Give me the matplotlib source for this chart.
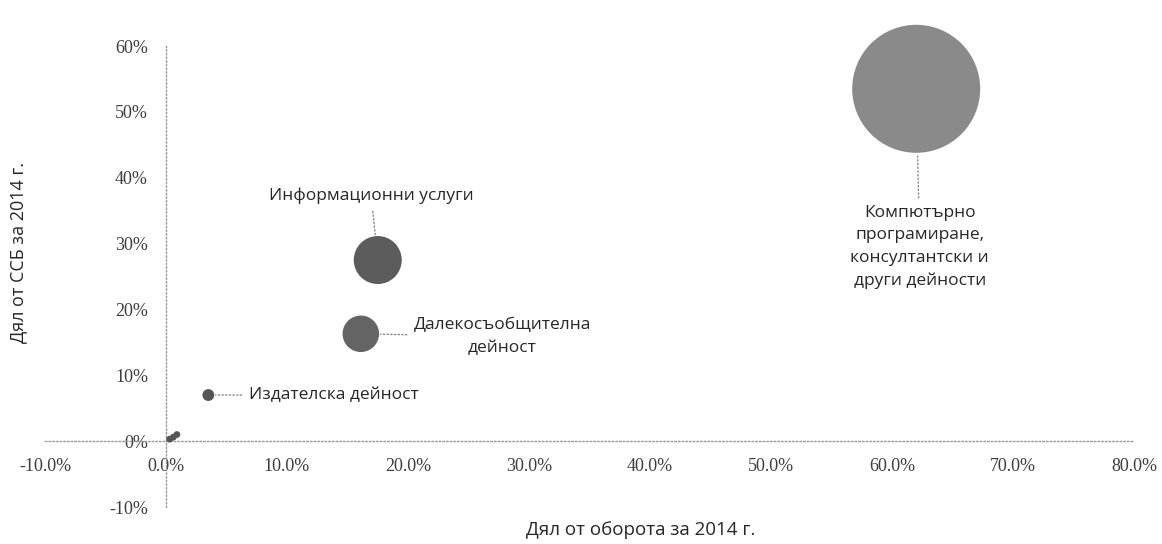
import numpy as np
import matplotlib
matplotlib.use("Agg")
from matplotlib import pyplot as plt
from matplotlib.ticker import FuncFormatter, MultipleLocator

# Дял от оборота (x), дял от ССБ (y) и размер на балона
sectors = ["Компютърно\nпрограмиране,\nконсултантски и\nдруги дейности",
           "Информационни услуги",
           "Далекосъобщителна\nдейност",
           "Издателска дейност",
           "", "", ""]
turnover_share = [62.0, 17.5, 16.1, 3.5, 0.9, 0.6, 0.3]
ssb_share = [53.5, 27.5, 16.3, 7.0, 1.0, 0.6, 0.3]
bubble_size = [64.0, 9.0, 5.2, 0.55, 0.18, 0.18, 0.18]
bubble_colors = ["#8a8a8a", "#5c5c5c", "#646464", "#555555", "#555555", "#555555", "#555555"]

SANS = ["Open Sans", "DejaVu Sans"]
SERIF = ["Liberation Serif", "DejaVu Serif"]

fig = plt.figure(figsize=(11.62, 5.44), dpi=100)
ax = fig.add_axes([45 / 1162, 1 - 507 / 544, 1089 / 1162, 461 / 544])

for side in ["top", "right"]:
    ax.spines[side].set_visible(False)
ax.spines["bottom"].set_position(("data", 0))
ax.spines["left"].set_position(("data", 0))
for side in ["bottom", "left"]:
    ax.spines[side].set_color("#9a9a9a")
    ax.spines[side].set_linestyle(":")
    ax.spines[side].set_linewidth(1.0)

ax.set_xlim(-10, 80)
ax.set_ylim(-10, 60)
ax.xaxis.set_major_locator(MultipleLocator(10))
ax.yaxis.set_major_locator(MultipleLocator(10))
ax.xaxis.set_major_formatter(FuncFormatter(lambda v, p: f"{v:.1f}%"))
ax.yaxis.set_major_formatter(FuncFormatter(lambda v, p: f"{v:.0f}%"))
ax.tick_params(axis="both", length=0, labelcolor="#3c3c3c", labelsize=13)
ax.tick_params(axis="x", pad=12)
ax.tick_params(axis="y", pad=13)
for lbl in ax.get_xticklabels() + ax.get_yticklabels():
    lbl.set_family(SERIF)

# радиус в пиксели ~ 8 * sqrt(размер)
radius_px = 8 * np.sqrt(np.array(bubble_size))
sizes = (2 * radius_px * 0.72) ** 2
ax.scatter(turnover_share, ssb_share, s=sizes, c=bubble_colors,
           edgecolors="none", zorder=3, clip_on=False)

# етикети с пунктирни водещи линии (отместване в точки)
label_offsets = [(2.5, -114), (-4.7, 46), (102, -2), (29, 0)]
label_ha = ["center", "center", "center", "left"]
for i, (dx, dy) in enumerate(label_offsets):
    ax.annotate(sectors[i], xy=(turnover_share[i], ssb_share[i]),
                xytext=(dx, dy), textcoords="offset points",
                ha=label_ha[i], va="center", multialignment="center",
                fontsize=12.5, family=SANS, color="#262626", linespacing=1.55,
                arrowprops=dict(arrowstyle="-", color="#8a8a8a", linestyle=":",
                                linewidth=1.0, shrinkA=3,
                                shrinkB=radius_px[i] * 0.72 + 1),
                zorder=4)

ax.set_xlabel("Дял от оборота за 2014 г.", fontsize=13.5, family=SANS, color="#262626")
ax.set_ylabel("Дял от ССБ за 2014 г.", fontsize=13, family=SANS, color="#262626")
ax.xaxis.set_label_coords(0.547, -0.03)
ax.yaxis.set_label_coords(-0.0165, 0.553)

fig.savefig("out.png", dpi=100)
